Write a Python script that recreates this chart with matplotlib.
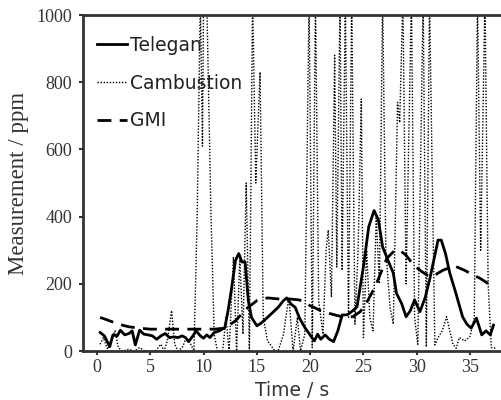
import matplotlib
matplotlib.use("Agg")
import matplotlib.pyplot as plt

# ---------------- data ----------------
telegan_t = [0.3, 0.7, 1.2, 1.5, 1.9, 2.2, 2.6, 3.0, 3.3, 3.6, 4.0, 4.4, 4.8, 5.2, 5.6, 6.0, 6.4,
             6.8, 7.2, 7.6, 8.0, 8.3, 8.6, 9.0, 9.3, 9.7, 10.0, 10.3, 10.6, 11.0, 11.5, 12.0,
             12.3, 12.6, 13.0, 13.3, 13.6, 13.9, 14.2, 14.5, 15.0, 15.4, 16.0, 16.5, 17.0,
             17.5, 17.8, 18.2, 18.6, 19.0, 19.5, 20.1, 20.4, 20.7, 21.0, 21.4, 21.8, 22.2,
             22.6, 23.0, 23.5, 24.0, 24.4, 25.0, 25.5, 26.0, 26.4, 26.8, 27.3, 27.8, 28.1,
             28.6, 29.0, 29.4, 29.8, 30.3, 30.8, 31.2, 31.6, 32.0, 32.3, 32.7, 33.1, 33.6,
             34.3, 34.7, 35.1, 35.4, 35.6, 36.1, 36.5, 36.9, 37.2]
telegan_v = [55, 45, 13, 48, 45, 62, 48, 52, 60, 18, 62, 50, 48, 45, 35, 45, 52,
             40, 42, 40, 45, 40, 28, 45, 60, 45, 38, 48, 40, 55, 60, 70,
             120, 180, 270, 290, 265, 265, 150, 100, 75, 83, 100, 115, 130,
             150, 158, 140, 130, 98, 70, 43, 30, 50, 35, 48, 35, 28,
             60, 107, 108, 120, 132, 251, 370, 418, 390, 310, 270, 232, 172,
             140, 102, 120, 152, 117, 160, 211, 270, 330, 330, 290, 232, 180,
             102, 80, 68, 85, 98, 48, 60, 48, 77]

cambustion_t = [0.3, 0.6, 1.0, 1.3, 1.7, 2.0, 2.4, 3.0, 3.5, 4.0, 4.5, 5.5, 6.0, 6.3, 6.6,
                7.0, 7.3, 7.6, 8.0, 8.4, 8.8, 9.1, 9.4, 9.7, 9.9, 10.0, 10.3, 10.7, 11.0,
                11.3, 11.8, 12.1, 12.4, 12.8, 13.1, 13.4, 13.7, 14.0, 14.3, 14.6, 14.9, 15.3,
                15.6, 16.0, 16.7, 17.0, 17.5, 18.0, 18.4, 18.8, 19.1, 19.5, 19.9, 20.2, 20.5,
                20.8, 21.2, 21.5, 21.7, 22.0, 22.3, 22.5, 22.8, 23.0, 23.3, 23.6, 23.9, 24.2,
                24.5, 24.8, 25.0, 25.3, 25.6, 25.9, 26.2, 26.5, 26.8, 27.1, 27.5, 27.8, 28.0,
                28.2, 28.4, 28.7, 29.0, 29.5, 29.8, 30.1, 30.6, 30.9, 31.2, 31.7, 32.0, 32.4,
                32.8, 33.1, 33.4, 33.7, 34.0, 34.5, 35.0, 35.4, 35.7, 36.0, 36.4, 36.7, 37.0,
                37.5]
cambustion_v = [20, 40, 5, 30, 60, 10, 0, 5, 0, 10, 0, 0, 20, 0, 30,
                120, 20, 0, 10, 40, 20, 0, 400, 1050, 610, 1050, 1050, 400, 50,
                0, 0, 100, 0, 280, 0, 280, 50, 500, 0, 1050, 500, 830,
                100, 30, 0, 0, 50, 160, 0, 100, 0, 50, 1050, 10, 1050,
                150, 50, 300, 360, 160, 880, 250, 1050, 240, 1050, 100, 1050, 80,
                300, 750, 40, 300, 100, 60, 400, 200, 1050, 300, 130, 80, 400,
                740, 680, 1050, 200, 1050, 100, 20, 1050, 12, 1050, 18, 40, 60,
                102, 60, 20, 8, 40, 30, 43, 100, 1050, 300, 1050, 200, 10,
                8]

gmi_t = [0.3, 1.0, 2.0, 3.0, 4.0, 5.0, 6.0, 7.0, 8.0, 9.0, 10.0, 11.0, 12.0, 13.0, 14.0,
         15.0, 16.0, 17.0, 18.0, 19.0, 20.0, 21.0, 22.0, 23.0, 24.0, 24.7, 25.4, 26.1,
         26.6, 27.2, 27.8, 28.4, 29.0, 29.7, 30.4, 31.2, 31.8, 32.5, 33.1, 33.7, 34.5,
         35.2, 35.9, 36.5, 37.2]
gmi_v = [100, 92, 80, 72, 68, 65, 65, 65, 65, 65, 65, 65, 68, 90, 125,
         150, 158, 155, 155, 152, 135, 120, 110, 102, 102, 117, 150, 191,
         230, 276, 295, 300, 285, 256, 238, 221, 228, 241, 248, 251, 240,
         228, 217, 205, 187]

xticks = [0, 5, 10, 15, 20, 25, 30, 35]
yticks = [0, 200, 400, 600, 800, 1000]

# ---------------- figure ----------------
fig = plt.figure(figsize=(5.02, 4.0), dpi=100)
ax = fig.add_axes([83 / 502, 49 / 400, 1 - 83 / 502, 336 / 400])

ax.plot(cambustion_t, cambustion_v, color="black", lw=1.0, linestyle=(0, (1, 1.2)),
        label="Cambustion", zorder=2)
ax.plot(gmi_t, gmi_v, color="black", lw=2.0, linestyle=(0, (5, 3)), label="GMI", zorder=3)
ax.plot(telegan_t, telegan_v, color="black", lw=2.0, label="Telegan", zorder=4)

ax.set_xlim(-1.31, 38.0)
ax.set_ylim(0, 1000)

ax.set_xticks(xticks)
ax.set_yticks(yticks)
serif = ["Liberation Serif", "DejaVu Serif"]
for lab in ax.get_xticklabels() + ax.get_yticklabels():
    lab.set_family(serif)
    lab.set_fontsize(13)
    lab.set_color("#333333")
ax.tick_params(direction="out", length=3, width=1.5, color="#333333")
ax.tick_params(axis="y", pad=5)
ax.tick_params(axis="x", pad=3)

for s in ["left", "bottom", "top"]:
    ax.spines[s].set_linewidth(2.0)
    ax.spines[s].set_color("#333333")
ax.spines["right"].set_visible(False)

ax.set_ylabel("Measurement / ppm", family=serif, fontsize=16.5, color="#333333", labelpad=5)
ax.set_xlabel("Time / s", family="DejaVu Sans", fontsize=13.5, color="#333333", labelpad=3)

handles, labels = ax.get_legend_handles_labels()
order = [2, 0, 1]
leg = ax.legend([handles[i] for i in order], [labels[i] for i in order],
                loc="upper left", bbox_to_anchor=(97 / 502, 364 / 400),
                bbox_transform=fig.transFigure, frameon=False,
                prop={"family": "DejaVu Sans", "size": 13.5},
                handlelength=1.6, handletextpad=0.15, labelspacing=1.0,
                borderaxespad=0, borderpad=0)
for t in leg.get_texts():
    t.set_color("#222222")

fig.savefig("out.png", dpi=100)
